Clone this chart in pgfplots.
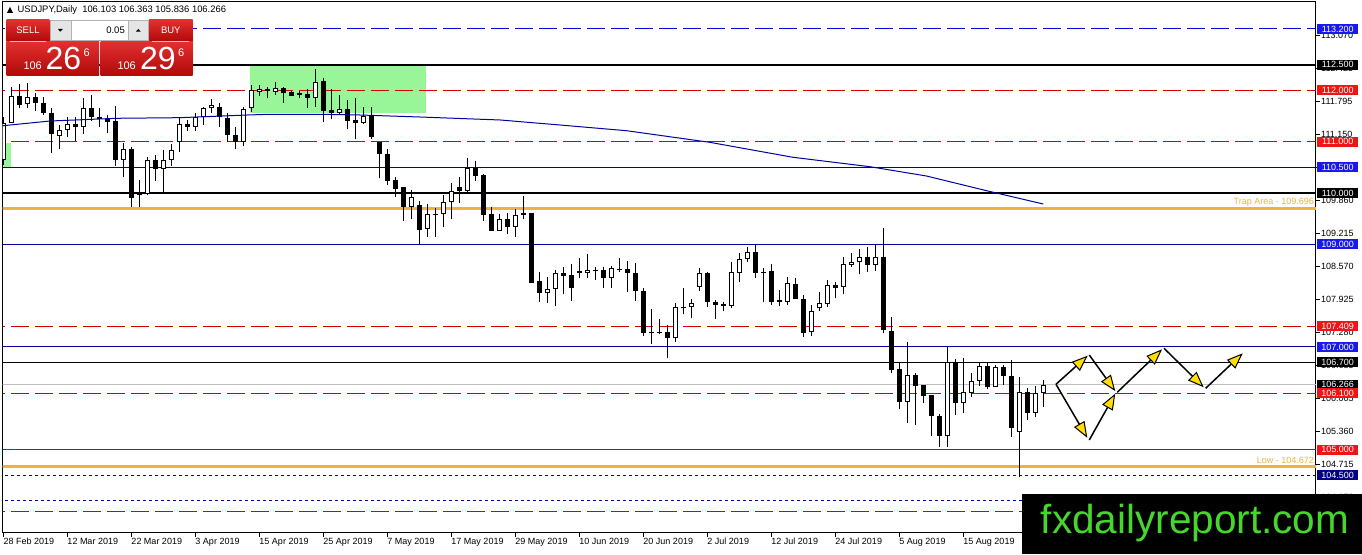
\documentclass[border=0pt]{standalone}
\usepackage{fontspec}
\setmainfont{Liberation Sans}
\usepackage{pgfplots}
\pgfplotsset{compat=1.18}
\usepackage{pgfplotstable}
\usetikzlibrary{arrows.meta}

\definecolor{mtblue}{RGB}{0,0,205}
\definecolor{mtnavy}{RGB}{0,0,160}
\definecolor{boxblue}{RGB}{25,25,235}
\definecolor{boxnavy}{RGB}{0,0,128}
\definecolor{mtred}{RGB}{215,0,0}
\definecolor{boxred}{RGB}{240,20,20}
\definecolor{mtorange}{RGB}{238,178,64}
\definecolor{zonegreen}{RGB}{152,245,152}
\definecolor{bidgrey}{RGB}{192,192,192}
\definecolor{logogreen}{RGB}{70,215,45}
\definecolor{btntop}{RGB}{226,48,48}
\definecolor{btnbot}{RGB}{176,8,8}
\definecolor{arrowyellow}{RGB}{255,222,0}

\pgfplotstableread{
i o h l c
0 110.645 111.483 110.548 111.366
1 111.372 112.074 111.361 111.893
2 111.893 112.127 111.653 111.717
3 111.731 112.140 111.653 111.867
4 111.867 111.945 111.606 111.750
5 111.750 111.867 111.522 111.555
6 111.567 111.653 110.787 111.152
7 111.113 111.327 110.854 111.230
8 111.230 111.489 111.099 111.341
9 111.341 111.478 111.021 111.283
10 111.294 111.848 111.152 111.665
11 111.653 111.912 111.405 111.478
12 111.478 111.653 111.294 111.439
13 111.439 111.522 111.166 111.392
14 111.405 111.698 110.528 110.645
15 110.645 110.971 110.308 110.854
16 110.854 110.893 109.735 109.899
17 109.996 110.255 109.735 109.963
18 109.982 110.698 109.963 110.645
19 110.645 110.743 110.242 110.464
20 110.464 110.840 110.027 110.645
21 110.645 110.957 110.528 110.840
22 111.002 111.458 110.807 111.341
23 111.341 111.425 111.216 111.294
24 111.294 111.567 111.216 111.478
25 111.478 111.669 111.327 111.653
26 111.653 111.828 111.567 111.717
27 111.684 111.750 111.294 111.478
28 111.458 111.567 111.002 111.132
29 111.132 111.294 110.854 111.002
30 111.002 111.684 110.918 111.633
31 111.653 112.107 111.587 112.010
32 111.965 112.107 111.893 112.023
33 112.023 112.074 111.848 111.996
34 111.977 112.171 111.912 112.043
35 112.043 112.074 111.762 111.957
36 111.977 111.990 111.893 111.899
37 111.945 111.996 111.848 111.912
38 111.932 112.023 111.653 111.848
39 111.848 112.413 111.684 112.171
40 112.191 112.238 111.392 111.606
41 111.620 112.023 111.439 111.555
42 111.555 111.912 111.522 111.633
43 111.633 111.815 111.244 111.411
44 111.425 111.848 111.049 111.361
45 111.361 111.684 111.347 111.509
46 111.522 111.684 111.049 111.088
47 111.002 111.002 110.288 110.762
48 110.762 110.854 110.158 110.242
49 110.255 110.320 109.918 110.080
50 110.113 110.113 109.462 109.723
51 109.723 110.060 109.489 109.918
52 109.768 109.852 109.008 109.281
53 109.294 109.787 109.150 109.587
54 109.593 109.704 109.150 109.567
55 109.587 109.963 109.333 109.821
56 109.821 110.203 109.489 110.047
57 110.113 110.320 109.813 110.047
58 110.047 110.678 110.008 110.483
59 110.483 110.632 110.242 110.339
60 110.353 110.372 109.462 109.573
61 109.593 109.735 109.267 109.267
62 109.267 109.593 109.267 109.489
63 109.489 109.618 109.203 109.345
64 109.345 109.684 109.150 109.573
65 109.606 109.943 109.489 109.579
66 109.618 109.618 108.253 108.253
67 108.286 108.468 107.883 108.047
68 108.047 108.370 107.852 108.130
69 108.130 108.501 107.805 108.437
70 108.437 108.565 108.027 108.390
71 108.403 108.612 107.897 108.156
72 108.481 108.729 108.339 108.437
73 108.437 108.807 108.351 108.501
74 108.507 108.565 108.306 108.487
75 108.501 108.565 108.156 108.351
76 108.351 108.585 108.156 108.546
77 108.520 108.729 108.468 108.501
78 108.520 108.676 108.066 108.437
79 108.437 108.632 107.897 108.092
80 108.092 108.144 107.220 107.267
81 107.298 107.741 107.053 107.279
82 107.287 107.546 107.248 107.267
83 107.287 107.429 106.780 107.170
84 107.170 107.852 107.103 107.774
85 107.786 108.156 107.637 107.766
86 107.774 107.936 107.559 107.852
87 108.175 108.534 108.092 108.437
88 108.437 108.456 107.786 107.871
89 107.877 107.916 107.536 107.809
90 107.832 107.871 107.702 107.793
91 107.805 108.651 107.754 108.456
92 108.437 108.826 108.273 108.715
93 108.715 108.955 108.663 108.846
94 108.846 108.988 108.351 108.437
95 108.468 108.534 107.871 108.448
96 108.481 108.612 107.819 107.883
97 107.916 108.111 107.805 107.883
98 107.883 108.370 107.819 108.242
99 108.222 108.351 107.936 107.936
100 107.936 108.014 107.201 107.267
101 107.287 107.819 107.220 107.702
102 107.754 108.066 107.702 107.852
103 107.844 108.306 107.786 108.209
104 108.209 108.273 107.949 108.156
105 108.170 108.760 108.027 108.612
106 108.598 108.826 108.565 108.651
107 108.651 108.910 108.417 108.760
108 108.760 108.955 108.468 108.598
109 108.598 109.002 108.481 108.760
110 108.760 109.314 107.267 107.331
111 107.312 107.591 106.499 106.552
112 106.565 106.694 105.786 105.934
113 105.934 107.103 105.524 106.454
114 106.454 106.487 105.480 106.240
115 106.259 106.259 105.903 106.045
116 106.064 106.064 105.265 105.655
117 105.655 105.694 105.045 105.265
118 105.265 106.994 105.057 106.713
119 106.713 106.760 105.674 105.903
120 105.903 106.780 105.708 106.129
121 106.109 106.499 106.031 106.343
122 106.343 106.694 106.240 106.630
123 106.630 106.694 106.175 106.214
124 106.214 106.649 106.214 106.604
125 106.604 106.649 106.259 106.435
126 106.435 106.747 105.251 105.415
127 105.349 106.421 104.466 106.129
128 106.129 106.195 105.577 105.719
129 105.719 106.240 105.630 106.097
130 106.103 106.363 105.836 106.266
}\candles

\newcommand\hlev[2]{\addplot[#2] coordinates {(-5,#1) (170,#1)};}
\newcommand\pricebox[3]{\node[fill=#2, text=white, font=\fontsize{9pt}{10pt}\selectfont, minimum width=41pt, minimum height=10pt, inner sep=0pt, anchor=west] at (1317, {21+(#1-103.374)*51.3}) {#3};}

\begin{document}
\begin{tikzpicture}[x=1pt,y=1pt]
\path[use as bounding box] (0,0) rectangle (1362,554);
\fill[white] (0,0) rectangle (1362,554);
\begin{axis}[
  at={(2.5pt,21pt)}, anchor=south west,
  scale only axis, width=1313.5pt, height=531pt,
  xmin=-0.1, xmax=164.09, ymin=103.374, ymax=113.725,
  axis line style={black, line width=1pt},
  xtick pos=left, ytick pos=right, yticklabel pos=right,
  tick align=outside, major tick length=4pt,
  tick style={black, line width=1pt},
  tick label style={font=\fontsize{9pt}{10pt}\selectfont},
  xtick={0,8,...,120},
  xticklabels={28 Feb 2019,12 Mar 2019,22 Mar 2019,3 Apr 2019,15 Apr 2019,25 Apr 2019,7 May 2019,17 May 2019,29 May 2019,10 Jun 2019,20 Jun 2019,2 Jul 2019,12 Jul 2019,24 Jul 2019,5 Aug 2019,15 Aug 2019},
  xticklabel style={anchor=north west, inner sep=0pt, xshift=0pt, yshift=-1pt},
  ytick={104.070,104.715,105.360,106.005,106.635,107.280,107.925,108.570,109.215,109.860,110.505,111.150,111.795,112.425,113.070},
  yticklabels={104.070,104.715,105.360,106.005,106.635,107.280,107.925,108.570,109.215,109.860,110.505,111.150,111.795,112.425,113.070},
  yticklabel style={anchor=west, inner sep=0pt, xshift=1pt},
]
% zones
\addplot[fill=zonegreen, draw=none] coordinates {(30.9,111.555) (52.9,111.555) (52.9,112.497) (30.9,112.497)} -- cycle;
\addplot[fill=zonegreen, draw=none] coordinates {(-0.1,110.516) (0.96,110.516) (0.96,110.971) (-0.1,110.971)} -- cycle;
% horizontal levels
\hlev{113.2}{mtblue, line width=1pt, dash pattern=on 18pt off 6pt}
\hlev{112.5}{black, line width=2pt}
\hlev{112.0}{mtred, line width=1pt, dash pattern=on 18pt off 6pt}
\hlev{111.0}{mtred, line width=1pt, dash pattern=on 18pt off 6pt}
\hlev{110.5}{mtnavy, line width=1pt}
\hlev{110.0}{black, line width=2pt}
\hlev{109.696}{mtorange, line width=3pt}
\hlev{109.0}{mtnavy, line width=1pt}
\hlev{107.409}{mtred, line width=1pt, dash pattern=on 18pt off 6pt}
\hlev{107.0}{mtnavy, line width=1pt}
\hlev{106.7}{black, line width=1pt}
\hlev{106.266}{bidgrey, line width=1pt}
\hlev{106.1}{mtred, line width=1pt, dash pattern=on 18pt off 6pt}
\hlev{105.0}{mtred, line width=1pt}
\hlev{104.672}{mtorange, line width=3pt}
\hlev{104.5}{mtnavy, line width=1pt, dash pattern=on 3pt off 3pt}
\hlev{104.0}{mtnavy, line width=1pt, dash pattern=on 3pt off 3pt}
\hlev{103.8}{mtred, line width=1pt, dash pattern=on 18pt off 6pt}
% candles: wicks, bodies, white fill of up candles
\addplot[black, line width=1pt, quiver={u=0, v=\thisrow{h}-\thisrow{l}}] table[x=i, y=l] {\candles};
\addplot[black, line width=5pt, quiver={u=0, v=\thisrow{c}-\thisrow{o}}] table[x=i, y=o] {\candles};
\addplot[white, line width=3pt, quiver={u=0, v={max(\thisrow{c}-\thisrow{o}-0.039,0)}}] table[x=i, y expr=\thisrow{o}+0.0195] {\candles};
% moving average
\addplot[mtnavy, line width=1pt] coordinates {(-0.1,111.31) (0,111.314) (5.84,111.405) (14.2,111.458) (22.1,111.470) (30.5,111.522) (33.3,111.536) (39.6,111.536) (44.6,111.522) (52.1,111.483) (62.1,111.425) (69.6,111.327) (77.9,111.216) (88.3,110.990) (98.7,110.698) (108.3,110.515) (115.4,110.333) (122.9,110.047) (130,109.787)};
% projection arrows
\tikzset{projarrow/.style={black, line width=1.5pt, -{Triangle[length=16pt,width=12pt,fill=arrowyellow,line width=1pt]}}}
\addplot[projarrow] coordinates {(131.59,106.273) (135.55,106.83)};
\addplot[projarrow] coordinates {(131.59,106.273) (135.5,105.23)};
\addplot[projarrow] coordinates {(135.75,106.844) (139.0,106.14)};
\addplot[projarrow] coordinates {(135.75,105.187) (139.0,106.09)};
\addplot[projarrow] coordinates {(139.25,106.117) (144.85,106.955)};
\addplot[projarrow] coordinates {(145.09,106.975) (150.05,106.215)};
\addplot[projarrow] coordinates {(150.3,106.195) (154.93,106.877)};
\end{axis}

% level labels
\node[anchor=south east, inner sep=0pt, text=mtorange, font=\fontsize{9pt}{10pt}\selectfont] at (1314,347.5) {Trap Area - 109.696};
\node[anchor=south east, inner sep=0pt, text=mtorange, font=\fontsize{9pt}{10pt}\selectfont] at (1314,90) {Low - 104.672};

% price boxes on the right
\pricebox{113.2}{boxblue}{113.200}
\pricebox{112.5}{black}{112.500}
\pricebox{112.0}{boxred}{112.000}
\pricebox{111.0}{boxred}{111.000}
\pricebox{110.5}{boxblue}{110.500}
\pricebox{110.0}{black}{110.000}
\pricebox{109.0}{boxblue}{109.000}
\pricebox{107.409}{boxred}{107.409}
\pricebox{107.0}{boxblue}{107.000}
\pricebox{106.7}{black}{106.700}
\pricebox{106.266}{black}{106.266}
\pricebox{106.1}{boxred}{106.100}
\pricebox{105.0}{boxred}{105.000}
\pricebox{104.5}{boxnavy}{104.500}

% header
\fill[black] (7,541) -- (13,541) -- (10,547) -- cycle;
\node[anchor=west, inner sep=0pt, font=\fontsize{9.4pt}{10pt}\selectfont] at (17.5,544) {USDJPY,Daily\ \ 106.103 106.363 105.836 106.266};

% trade panel
\shade[top color=btntop, bottom color=btnbot] (6.7,512.3) rectangle (49.3,534);
\node[text=white, font=\fontsize{9.5pt}{10pt}\selectfont] at (28,523.5) {SELL};
\fill[gray!20] (50,514) rectangle (70.7,533.3);
\draw[gray!60] (50,514) rectangle (70.7,533.3);
\fill[black] (57.8,525) -- (62.8,525) -- (60.3,522.3) -- cycle;
\fill[white] (70.7,514) rectangle (128.3,533.3);
\draw[gray!60] (70.7,514) rectangle (128.3,533.3);
\node[anchor=east, inner sep=0pt, font=\fontsize{9.5pt}{10pt}\selectfont] at (125,523.5) {0.05};
\fill[gray!20] (128.3,514) rectangle (148.3,533.3);
\draw[gray!60] (128.3,514) rectangle (148.3,533.3);
\fill[black] (135.8,522.3) -- (140.8,522.3) -- (138.3,525) -- cycle;
\shade[top color=btntop, bottom color=btnbot] (149,512.3) rectangle (192.7,534);
\node[text=white, font=\fontsize{9.5pt}{10pt}\selectfont] at (170.8,523.5) {BUY};
\shade[top color=btntop, bottom color=btnbot] (6.7,478) rectangle (99,512.3);
\shade[top color=btntop, bottom color=btnbot] (100.7,478) rectangle (192.7,512.3);
\draw[white!70!red, line width=0.6pt] (10,512.3) -- (46,512.3);
\draw[white!70!red, line width=0.6pt] (152,512.3) -- (189,512.3);
\node[anchor=base west, inner sep=0pt, text=white, font=\fontsize{11pt}{12pt}\selectfont] at (23.3,484) {106};
\node[anchor=base west, inner sep=0pt, text=white, font=\fontsize{32pt}{34pt}\selectfont] at (45.5,484) {26};
\node[anchor=base west, inner sep=0pt, text=white, font=\fontsize{11pt}{12pt}\selectfont] at (83.5,497) {6};
\node[anchor=base west, inner sep=0pt, text=white, font=\fontsize{11pt}{12pt}\selectfont] at (117.3,484) {106};
\node[anchor=base west, inner sep=0pt, text=white, font=\fontsize{32pt}{34pt}\selectfont] at (140,484) {29};
\node[anchor=base west, inner sep=0pt, text=white, font=\fontsize{11pt}{12pt}\selectfont] at (178,497) {6};

% logo
\fill[black] (1022,0) rectangle (1362,60);
\node[anchor=base, inner sep=0pt, text=logogreen, font=\fontsize{40.5pt}{42pt}\selectfont] at (1195,20) {fxdailyreport.com};
\end{tikzpicture}
\end{document}
